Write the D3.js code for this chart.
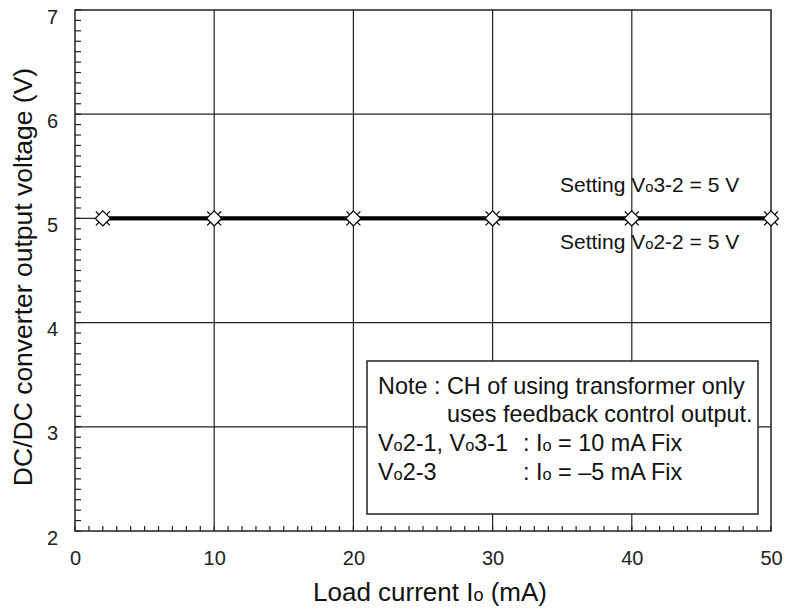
<!DOCTYPE html>
<html><head><meta charset="utf-8">
<script src="https://cdn.jsdelivr.net/npm/d3@7"></script>
<style>body{margin:0;background:#fff}svg{display:block;font-family:"Liberation Sans",Arial,sans-serif}</style>
</head><body>
<svg id="c" width="785" height="611"></svg>
<script>
const loadCurrent = [2, 10, 20, 30, 40, 50];
const vo32 = [5, 5, 5, 5, 5, 5];
const vo22 = [5, 5, 5, 5, 5, 5];
const xTicks = [0, 10, 20, 30, 40, 50];
const yTicks = [2, 3, 4, 5, 6, 7];

const svg = d3.select("#c");
const m = {l: 75, r: 14, t: 10, b: 80};
const W = 785, H = 611;
const FF = "Liberation Sans, Arial, sans-serif";
const x = d3.scaleLinear().domain([0, 50]).range([m.l, W - m.r]);
const y = d3.scaleLinear().domain([2, 7]).range([H - m.b, m.t]);

const g = svg.append("g");
// grid
g.selectAll(".gx").data(xTicks.slice(1, -1)).join("line")
  .attr("x1", d => x(d)).attr("x2", d => x(d)).attr("y1", y(2)).attr("y2", y(7))
  .attr("stroke", "#222").attr("stroke-width", 1.2);
g.selectAll(".gy").data(yTicks.slice(1, -1)).join("line")
  .attr("x1", x(0)).attr("x2", x(50)).attr("y1", d => y(d)).attr("y2", d => y(d))
  .attr("stroke", "#222").attr("stroke-width", 1.2);

// minor ticks (inward)
const xMinor = d3.range(0, 50.001, 1);
g.selectAll(".mx").data(xMinor).join("line")
  .attr("x1", d => x(d)).attr("x2", d => x(d)).attr("y1", y(2)).attr("y2", y(2) - 5)
  .attr("stroke", "#222").attr("stroke-width", 1.2);
const yMinor = d3.range(2, 7.001, 0.1);
g.selectAll(".my").data(yMinor).join("line")
  .attr("x1", x(0)).attr("x2", x(0) + 6).attr("y1", d => y(d)).attr("y2", d => y(d))
  .attr("stroke", "#222").attr("stroke-width", 1.2);

// frame
g.append("rect").attr("x", x(0)).attr("y", y(7)).attr("width", x(50) - x(0)).attr("height", y(2) - y(7))
  .attr("fill", "none").attr("stroke", "#222").attr("stroke-width", 1.5);

// axis tick labels
const xAxis = d3.axisBottom(x).tickValues(xTicks).tickFormat(d3.format("d")).tickSize(0).tickPadding(20);
const xa = svg.append("g").attr("transform", `translate(0,${y(2)})`).call(xAxis)
  .attr("font-size", 20).attr("font-family", FF);
xa.select(".domain").remove();
xa.selectAll("text").attr("fill", "#222");
const yAxis = d3.axisLeft(y).tickValues(yTicks).tickFormat(d3.format("d")).tickSize(0).tickPadding(17);
const ya = svg.append("g").attr("transform", `translate(${x(0)},0)`).call(yAxis)
  .attr("font-size", 20).attr("font-family", FF);
ya.select(".domain").remove();
ya.selectAll("text").attr("fill", "#222").attr("dy", "0.65em");

// axis titles
const xt = svg.append("text").attr("x", 430).attr("y", 601).attr("text-anchor", "middle")
  .attr("font-size", 26).attr("fill", "#111");
xt.append("tspan").text("Load current I");
xt.append("tspan").attr("font-size", 18).text("o");
xt.append("tspan").text(" (mA)");
svg.append("text").attr("transform", `translate(32,277) rotate(-90)`)
  .attr("text-anchor", "middle").attr("font-size", 26.5).attr("fill", "#111")
  .text("DC/DC converter output voltage (V)");

// legend box
const lb = svg.append("g");
lb.append("rect").attr("x", 367).attr("y", 361).attr("width", 391).attr("height", 153)
  .attr("fill", "#fff").attr("stroke", "#222").attr("stroke-width", 1.5);
function sub(t, parts, fs) {
  parts.forEach(p => {
    const s = t.append("tspan").text(p[0]);
    if (p[1]) s.attr("font-size", fs * 0.7);
  });
}
const fs = 23.4;
const l1 = lb.append("text").attr("x", 378).attr("y", 394).attr("font-size", fs).attr("fill", "#111");
sub(l1, [["Note : CH of using transformer only"]], fs);
const l2 = lb.append("text").attr("x", 447).attr("y", 422).attr("font-size", fs).attr("fill", "#111");
sub(l2, [["uses feedback control output."]], fs);
const l3 = lb.append("text").attr("x", 378).attr("y", 451).attr("font-size", fs).attr("fill", "#111");
sub(l3, [["V"], ["o", 1], ["2-1, V"], ["o", 1], ["3-1"]], fs);
const l3b = lb.append("text").attr("x", 523).attr("y", 451).attr("font-size", fs).attr("fill", "#111");
sub(l3b, [[": I"], ["o", 1], [" = 10 mA Fix"]], fs);
const l4 = lb.append("text").attr("x", 378).attr("y", 480).attr("font-size", fs).attr("fill", "#111");
sub(l4, [["V"], ["o", 1], ["2-3"]], fs);
const l4b = lb.append("text").attr("x", 523).attr("y", 480).attr("font-size", fs).attr("fill", "#111");
sub(l4b, [[": I"], ["o", 1], [" = \u20135 mA Fix"]], fs);

// series lines
const line = d3.line().x((d, i) => x(loadCurrent[i])).y(d => y(d));
[vo22, vo32].forEach(s => {
  svg.append("path").datum(s).attr("d", line).attr("fill", "none")
    .attr("stroke", "#000").attr("stroke-width", 3.8);
});
// markers
const mk = svg.append("g");
vo32.forEach((v, i) => {
  const cx = x(loadCurrent[i]), cy = y(v);
  mk.append("path").attr("d", `M${cx-7},${cy-7}L${cx+7},${cy+7}M${cx-7},${cy+7}L${cx+7},${cy-7}`)
    .attr("stroke", "#000").attr("stroke-width", 1.3);
  mk.append("path").attr("d", `M${cx},${cy-7.5}L${cx+7.5},${cy}L${cx},${cy+7.5}L${cx-7.5},${cy}Z`)
    .attr("fill", "#fff").attr("stroke", "#000").attr("stroke-width", 1.3);
});

// series labels
const fs2 = 21;
const s1 = svg.append("text").attr("x", 560).attr("y", 192).attr("font-size", fs2).attr("fill", "#111");
sub(s1, [["Setting V"], ["o", 1], ["3-2 = 5 V"]], fs2);
const s2 = svg.append("text").attr("x", 560).attr("y", 249).attr("font-size", fs2).attr("fill", "#111");
sub(s2, [["Setting V"], ["o", 1], ["2-2 = 5 V"]], fs2);
</script>
</body></html>
